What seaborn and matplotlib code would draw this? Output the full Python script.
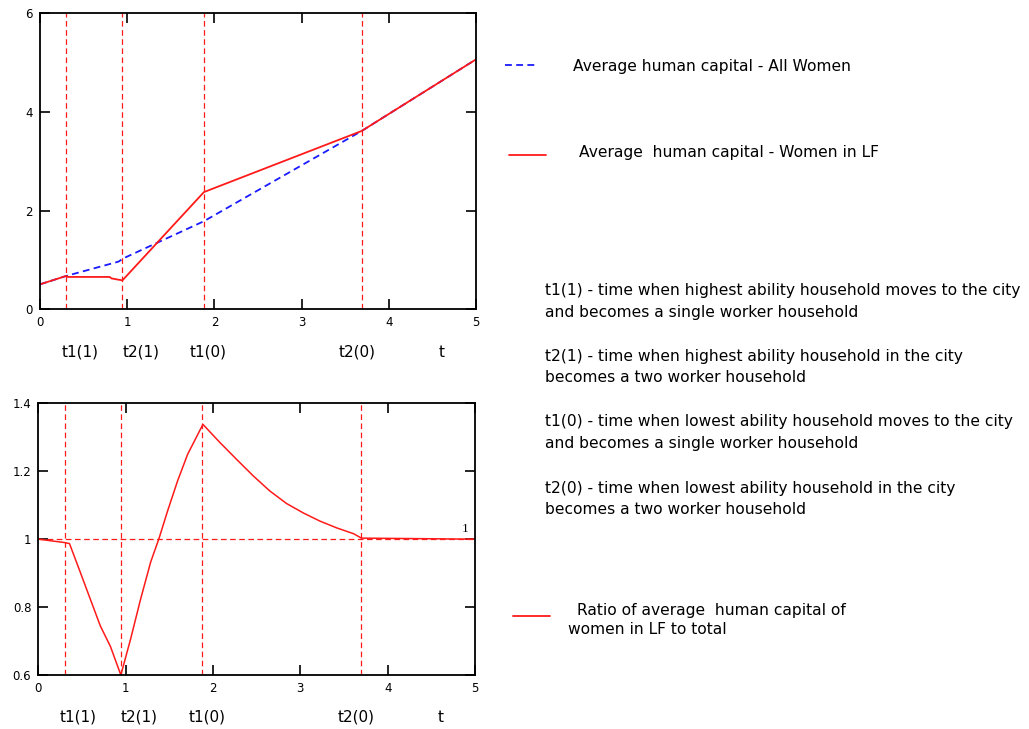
import numpy as np
import pandas as pd
import matplotlib
matplotlib.use("Agg")
import matplotlib.pyplot as plt
import matplotlib.transforms as mtransforms
from matplotlib.lines import Line2D
from matplotlib.ticker import FuncFormatter
import seaborn as sns

# ---------------- data ----------------
t_all = [0.0, 0.30, 0.90, 0.96, 1.88, 3.69, 5.0]
hc_all = [0.51, 0.68, 0.97, 1.04, 1.79, 3.62, 5.07]

t_lf = [0.0, 0.30, 0.32, 0.80, 0.82, 0.945, 1.88, 3.69, 5.0]
hc_lf = [0.51, 0.68, 0.66, 0.66, 0.63, 0.59, 2.38, 3.62, 5.07]

t_ratio = [0.0, 0.30, 0.357, 0.48, 0.596, 0.711, 0.826, 0.945, 1.056, 1.171,
           1.287, 1.382, 1.479, 1.594, 1.71, 1.885, 2.074, 2.266, 2.458, 2.65,
           2.842, 3.035, 3.226, 3.418, 3.61, 3.70, 5.0]
ratio = [1.0, 0.99, 0.987, 0.903, 0.823, 0.744, 0.684, 0.60, 0.705, 0.823,
         0.933, 1.002, 1.082, 1.171, 1.25, 1.338, 1.286, 1.236, 1.187, 1.142,
         1.105, 1.077, 1.053, 1.033, 1.016, 1.003, 1.0]

event_times = [0.30, 0.945, 1.88, 3.69]
event_labels = ["t1(1)", "t2(1)", "t1(0)", "t2(0)", "t"]
event_label_pos = [0.46, 1.16, 1.93, 3.64, 4.61]
ratio_ref = 1.0

top_xticks = [0, 1, 2, 3, 4, 5]
top_yticks = [0, 2, 4, 6]
bot_yticks = [0.6, 0.8, 1.0, 1.2, 1.4]

legend_all = "Average human capital - All Women"
legend_lf = "Average  human capital - Women in LF"
desc_lines = [
    "t1(1) - time when highest ability household moves to the city",
    "and becomes a single worker household",
    "t2(1) - time when highest ability household in the city",
    "becomes a two worker household",
    "t1(0) - time when lowest ability household moves to the city",
    "and becomes a single worker household",
    "t2(0) - time when lowest ability household in the city",
    "becomes a two worker household",
]
ratio_legend = ["Ratio of average  human capital of", "women in LF to total"]

df_all = pd.DataFrame({"t": t_all, "hc": hc_all})
df_lf = pd.DataFrame({"t": t_lf, "hc": hc_lf})
df_ratio = pd.DataFrame({"t": t_ratio, "ratio": ratio})

# ---------------- style ----------------
sns.set_theme(style="white")
plt.rcParams["font.family"] = ["DejaVu Sans"]

W, H = 1029, 729
fig = plt.figure(figsize=(W / 100, H / 100), dpi=100)

def px_rect(l, t, r, b):
    return [l / W, 1 - b / H, (r - l) / W, (b - t) / H]

ax1 = fig.add_axes(px_rect(40, 13.5, 476, 309.5))
ax2 = fig.add_axes(px_rect(38.3, 403.3, 475, 675))

RED = "#ff1a1a"
BLUE = "#1a1aff"

sns.lineplot(data=df_all, x="t", y="hc", ax=ax1, color=BLUE, lw=1.3,
             linestyle=(0, (3.8, 2.4)), sort=False, estimator=None)
sns.lineplot(data=df_lf, x="t", y="hc", ax=ax1, color=RED, lw=1.3,
             sort=False, estimator=None)
sns.lineplot(data=df_ratio, x="t", y="ratio", ax=ax2, color=RED, lw=1.1,
             sort=False, estimator=None)

for ax in (ax1, ax2):
    for tv in event_times:
        ax.axvline(tv, color=RED, lw=0.9, linestyle=(0, (4.5, 2.8)), zorder=1)
ax2.axhline(ratio_ref, color=RED, lw=0.9, linestyle=(0, (4.5, 2.8)), zorder=1)
ax2.text(0.985, ratio_ref + 0.012, "1",
         transform=mtransforms.blended_transform_factory(ax2.transAxes, ax2.transData),
         ha="right", va="bottom", fontsize=9.5, family="Liberation Serif", color="black")

ax1.set_xlim(0, 5)
ax1.set_ylim(0, 6)
ax1.set_xticks(top_xticks)
ax1.set_yticks(top_yticks)
ax2.set_xlim(0, 5)
ax2.set_ylim(0.6, 1.4)
ax2.set_xticks(top_xticks)
ax2.set_yticks(bot_yticks)
fmt = FuncFormatter(lambda v, p: "%g" % round(v, 2))

for ax, ypos in ((ax1, -0.145), (ax2, -0.155)):
    ax.xaxis.set_major_formatter(fmt)
    ax.yaxis.set_major_formatter(fmt)
    ax.set_xlabel("")
    ax.set_ylabel("")
    ax.grid(False)
    for s in ax.spines.values():
        s.set_color("black")
        s.set_linewidth(1.3)
        s.set_visible(True)
    ax.tick_params(direction="in", length=7, width=1.2, color="black",
                   top=True, right=True, bottom=True, left=True,
                   labelsize=8.5, labelcolor="black", pad=5)
    for lab in ax.get_xticklabels() + ax.get_yticklabels():
        lab.set_family("DejaVu Sans")
    tr = mtransforms.blended_transform_factory(ax.transData, ax.transAxes)
    for lbl, xp in zip(event_labels, event_label_pos):
        ax.text(xp, ypos, lbl, transform=tr, ha="center", va="center",
                fontsize=11, color="black")

def ftext(x, y, s, **kw):
    fig.text(x / W, 1 - y / H, s, va="center", ha="left", color="black", **kw)

def fline(x0, x1, y, **kw):
    fig.add_artist(Line2D([x0 / W, x1 / W], [1 - y / H, 1 - y / H], **kw))

fs = 11.2
fline(505, 538, 65, color=BLUE, lw=1.3, linestyle=(0, (3.8, 2.4)))
ftext(573, 67, legend_all, fontsize=fs)
fline(509, 546, 155, color=RED, lw=1.3)
ftext(579, 153, legend_lf, fontsize=fs)

ys = [290, 312, 357, 378, 422, 443, 488, 510]
for y, s in zip(ys, desc_lines):
    ftext(545, y, s, fontsize=fs)

fline(513, 550, 616, color=RED, lw=1.3)
ftext(577, 611, ratio_legend[0], fontsize=fs)
ftext(568, 629, ratio_legend[1], fontsize=fs)

fig.savefig("out.png", dpi=100, facecolor="white")
